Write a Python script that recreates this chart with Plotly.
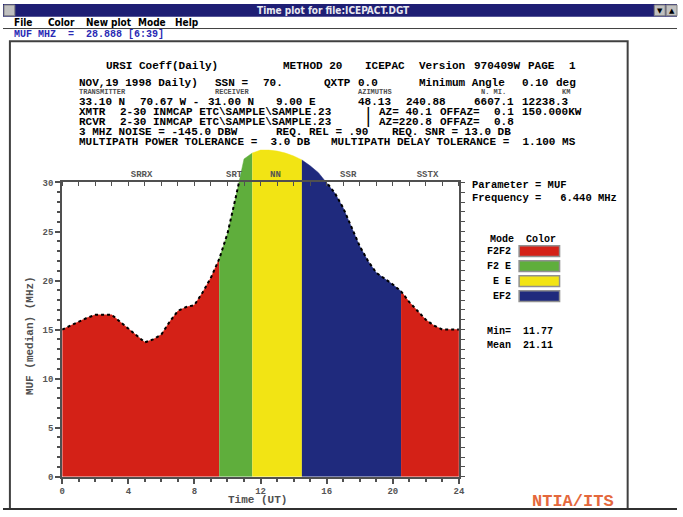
"""ICEPAC time plot of median MUF with propagation modes."""

import plotly.graph_objects as go

W, H = 683, 517

# median MUF (MHz) every half hour
TIME_UT = [0, 0.5, 1, 1.5, 2, 2.5, 3, 3.5, 4, 4.5, 5, 5.5, 6, 6.5, 7, 7.5, 8, 8.5,
           9, 9.5, 10, 10.5, 11, 11.5, 12, 12.5, 13, 13.5, 14, 14.5, 15, 15.5,
           16, 16.5, 17, 17.5, 18, 18.5, 19, 19.5, 20, 20.5, 21, 21.5, 22, 22.5,
           23, 23.5, 24]
MUF = [15.0, 15.4, 15.8, 16.2, 16.5, 16.5, 16.5, 15.8, 15.1, 14.4, 13.7, 14.0,
       14.5, 15.8, 16.9, 17.3, 17.5, 18.8, 20.3, 22.2, 24.8, 28.5, 32.4, 33.0,
       33.3, 33.3, 33.2, 33.0, 32.7, 32.3, 31.7, 31.0, 30.0, 28.9, 27.4, 25.5,
       23.5, 22.0, 20.8, 20.2, 19.6, 18.9, 17.8, 16.9, 16.0, 15.4, 15.0, 15.0,
       15.0]

# mode segments along the time axis
SEG_MODE = ["F2F2", "F2 E", "E E", "EF2", "F2F2"]
SEG_START = [0, 9.5, 11.5, 14.5, 20.5]
SEG_END = [9.5, 11.5, 14.5, 20.5, 24]

LEGEND_MODES = ["F2F2", "F2 E", "E E", "EF2"]
MODE_COLORS = {"F2F2": "#d42117", "F2 E": "#5fae3c", "E E": "#f2e414", "EF2": "#1f2a7d"}

X_TICKS = [0, 4, 8, 12, 16, 20, 24]
HOURS = list(range(0, 25))
Y_TICKS = [0, 5, 10, 15, 20, 25, 30]
Y_MINOR = list(range(0, 31))
TOP_MARK_TIMES = [4.8, 10.4, 12.9, 17.3, 22.1]
TOP_MARK_LABELS = ["SRRX", "SRT", "NN", "SSR", "SSTX"]

MONO = "Liberation Mono"
AXIS_COLOR = "#505050"
TICK_FONT = dict(family=MONO, size=9, color="#555555", weight="bold")


def fx(x):
    return x / W


def fy(y):
    return 1 - y / H


# header text: (row y, [(column, token), ...])
HEADER = [
    (63, [(4, "URSI Coeff(Daily)"), (30, "METHOD 20"), (42, "ICEPAC"),
          (50, "Version"), (58, "970409W"), (66, "PAGE"), (72, "1")]),
    (81, [(0, "NOV,19 1998 Daily)"), (20, "SSN ="), (27, "70."), (36, "QXTP"),
          (41, "0.0"), (50, "Minimum Angle"), (65, "0.10"), (70, "deg")]),
    (100, [(0, "33.10 N"), (9, "70.67 W -"), (19, "31.00 N"), (29, "9.00 E"),
           (41, "48.13"), (48, "240.88"), (58, "6607.1"), (65, "12238.3")]),
    (110, [(0, "XMTR"), (6, "2-30 INMCAP ETC\\SAMPLE\\SAMPLE.23"), (42, "|"),
           (44, "AZ= 40.1"), (53, "OFFAZ="), (61, "0.1"), (65, "150.000KW")]),
    (120, [(0, "RCVR"), (6, "2-30 INMCAP ETC\\SAMPLE\\SAMPLE.23"), (42, "|"),
           (44, "AZ=220.8"), (53, "OFFAZ="), (61, "0.8")]),
    (131, [(0, "3 MHZ NOISE = -145.0 DBW"), (29, "REQ. REL = .90"),
           (46, "REQ. SNR = 13.0 DB")]),
    (141, [(0, "MULTIPATH POWER TOLERANCE =  3.0 DB"),
           (37, "MULTIPATH DELAY TOLERANCE =  1.100 MS")]),
]
SUBHEAD = [(0, "TRANSMITTER"), (20, "RECEIVER"), (41, "AZIMUTHS"), (59, "N. MI."), (71, "KM")]

fig = go.Figure()

# colored mode areas under the MUF curve
for mode, t0, t1 in zip(SEG_MODE, SEG_START, SEG_END):
    xs = [t for t in TIME_UT if t0 <= t <= t1]
    ys = [m for t, m in zip(TIME_UT, MUF) if t0 <= t <= t1]
    fig.add_trace(go.Scatter(
        x=xs, y=ys, mode="lines", fill="tozeroy",
        fillcolor=MODE_COLORS[mode],
        line=dict(width=0.5, color=MODE_COLORS[mode]),
        xaxis="x", yaxis="y", hoverinfo="skip"
    ))

# dashed MUF curve, clipped to the 0-30 frame
fig.add_trace(go.Scatter(
    x=TIME_UT, y=MUF, mode="lines",
    line=dict(color="black", width=2, dash="3px,3px"),
    xaxis="x", yaxis="y2"
))
fig.add_trace(go.Scatter(x=[None], y=[None], xaxis="x2", yaxis="y3", mode="lines"))

x_dom = [fx(60), fx(462)]
base = fy(482)

fig.update_layout(
    width=W, height=H,
    margin=dict(l=0, r=0, t=0, b=0),
    paper_bgcolor="white", plot_bgcolor="rgba(0,0,0,0)",
    showlegend=False,
    xaxis=dict(domain=x_dom, range=[0, 24], anchor="y2",
               tickvals=X_TICKS, ticks="outside", ticklen=5, tickwidth=1.5,
               tickcolor=AXIS_COLOR,
               minor=dict(tickvals=HOURS, ticks="outside", ticklen=3, tickcolor=AXIS_COLOR),
               showline=True, linecolor=AXIS_COLOR, linewidth=2,
               showgrid=False, zeroline=False, tickfont=TICK_FONT),
    xaxis2=dict(overlaying="x", side="top", anchor="y2", range=[0, 24],
                tickvals=TOP_MARK_TIMES, ticktext=TOP_MARK_LABELS, ticks="",
                minor=dict(tickvals=HOURS, ticks="inside", ticklen=4, tickcolor=AXIS_COLOR),
                showline=True, linecolor=AXIS_COLOR, linewidth=2,
                showgrid=False, zeroline=False, tickfont=TICK_FONT),
    yaxis=dict(domain=[base, fy(142)], range=[0, 34], visible=False, anchor="x"),
    yaxis2=dict(domain=[base, fy(182)], range=[0, 30], anchor="x",
                tickvals=Y_TICKS, ticks="outside", ticklen=5, tickwidth=1.5,
                tickcolor=AXIS_COLOR,
                minor=dict(tickvals=Y_MINOR, ticks="outside", ticklen=3, tickcolor=AXIS_COLOR),
                showline=True, linecolor=AXIS_COLOR, linewidth=2,
                showgrid=False, zeroline=False, tickfont=TICK_FONT),
    yaxis3=dict(overlaying="y2", side="right", anchor="x", range=[0, 30],
                showticklabels=False, ticks="outside", ticklen=4,
                tickcolor=AXIS_COLOR,
                tickvals=Y_MINOR,
                showline=True, linecolor=AXIS_COLOR, linewidth=2,
                showgrid=False, zeroline=False),
)

shapes = []
annotations = []


def text(x, y, s, size=11, color="black", anchor="left", family=MONO, bold=True, **kw):
    annotations.append(dict(
        x=fx(x), y=fy(y), xref="paper", yref="paper", text=f"<b>{s}</b>" if bold else s,
        showarrow=False, xanchor=anchor, yanchor="middle",
        font=dict(family=family, size=size, color=color), **kw
    ))


def rect(x0, y0, x1, y1, fill=None, line="#404040", width=1):
    shapes.append(dict(
        type="rect", xref="paper", yref="paper",
        x0=fx(x0), y0=fy(y0), x1=fx(x1), y1=fy(y1),
        fillcolor=fill if fill else "rgba(0,0,0,0)",
        line=dict(color=line, width=width), layer="above"
    ))


# window chrome
rect(0, 0, 683, 13, fill="#1e1e74", line="#1e1e74", width=0)
rect(1, 1, 12, 12, fill="#c0c0c0", line="#808080")
rect(660, 1, 671, 12, fill="#c0c0c0", line="#808080")
rect(672, 1, 683, 12, fill="#c0c0c0", line="#808080")
text(335, 7, "Time plot for file:ICEPACT.DGT", size=10, color="#e8e8f0",
     anchor="center", family="DejaVu Sans Condensed")
text(665.5, 7, "▼", size=7, color="black", anchor="center", family="DejaVu Sans", bold=False)
text(677.5, 7, "▲", size=7, color="black", anchor="center", family="DejaVu Sans", bold=False)
for mx, label in [(9, "File"), (44, "Color"), (82, "New plot"), (135, "Mode"), (172, "Help")]:
    text(mx, 19, label, size=10, family="DejaVu Sans Condensed")
shapes.append(dict(type="line", xref="paper", yref="paper", x0=0, x1=1, y0=fy(25), y1=fy(25),
                   line=dict(color="#404040", width=1)))
text(9, 31, "MUF MHZ  =  28.888 [6:39]", size=10, color="#2a2ab4")

# report panel
rect(7, 38, 633, 515, line="#404040", width=2)
shapes.append(dict(type="line", xref="paper", yref="paper", x0=fx(0), x1=1, y0=fy(515), y1=fy(515),
                   line=dict(color="#303030", width=2)))

X0, CW = 75, 6.9
for row_y, tokens in HEADER:
    for col, tok in tokens:
        text(X0 + col * CW, row_y, tok.replace(" ", "\u00a0"), size=11)
for col, tok in SUBHEAD:
    text(X0 + col * CW, 90, tok.replace(" ", "\u00a0"), size=7, color="#505050")

# axis titles
text(258, 506, "Time (UT)", size=11, color="#505050", anchor="center")
annotations.append(dict(
    x=fx(28), y=fy(338), xref="paper", yref="paper", text="<b>MUF (median) (MHz)</b>",
    showarrow=False, textangle=-90, xanchor="center", yanchor="middle",
    font=dict(family=MONO, size=11, color="#505050")
))

# side panel
text(473, 185, "Parameter = MUF", size=10.5)
text(473, 198, "Frequency =   6.440 MHz", size=10.5)
text(491, 240, "Mode\u00a0\u00a0Color", size=10)
for i, mode in enumerate(LEGEND_MODES):
    yc = 252 + i * 15.3
    text(517, yc, mode.replace(" ", "\u00a0"), size=10, anchor="right")
    rect(523, yc - 5.5, 564, yc + 5.5, fill=MODE_COLORS[mode], line="#909090", width=1.5)
text(488, 334, "Min=\u00a0\u00a011.77", size=10)
text(488, 348, "Mean\u00a0\u00a021.11", size=10)

text(578, 507, "NTIA/ITS", size=17, color="#e4683c", anchor="center")

fig.update_layout(shapes=shapes, annotations=annotations)

fig.write_html("out.html", config={"displayModeBar": False},
               post_script="document.body.style.margin = '0';")
